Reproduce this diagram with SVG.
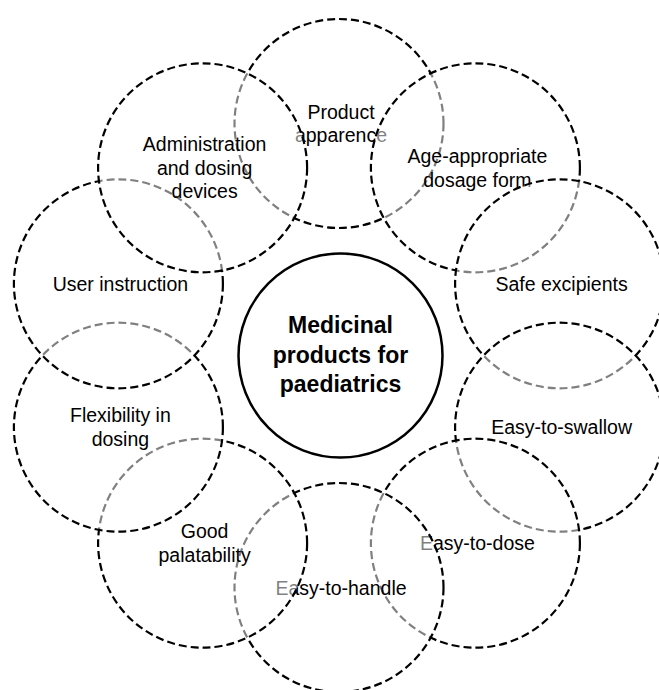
<svg xmlns="http://www.w3.org/2000/svg" width="659" height="690" viewBox="0 0 659 690">
<style>
.ring{fill:#ffffff;fill-opacity:0.5;stroke:#000;stroke-width:2.2;stroke-dasharray:8 4}
.lbl{font-family:"Liberation Sans",Arial,sans-serif;font-size:19.5px;fill:#000;text-anchor:middle}
.hub{fill:#fff;stroke:#000;stroke-width:2.5}
.hubt{font-family:"Liberation Sans",Arial,sans-serif;font-size:23px;font-weight:bold;fill:#000;text-anchor:middle}
</style>
<rect width="659" height="690" fill="#fff"/>
<g id="connectors"/>
<g id="product-apparence">
<circle class="ring" cx="339" cy="123.5" r="104.5"/>
<text class="lbl" x="341" y="118.7">Product</text>
<text class="lbl" x="341" y="142.3">apparence</text>
</g>
<g id="age-appropriate">
<circle class="ring" cx="475.4" cy="167.8" r="104.5"/>
<text class="lbl" x="477.4" y="163">Age-appropriate</text>
<text class="lbl" x="477.4" y="186.6">dosage form</text>
</g>
<g id="safe-excipients">
<circle class="ring" cx="559.6" cy="283.8" r="104.5"/>
<text class="lbl" x="561.6" y="290.8">Safe excipients</text>
</g>
<g id="easy-to-swallow">
<circle class="ring" cx="559.6" cy="427.2" r="104.5"/>
<text class="lbl" x="561.6" y="434.2">Easy-to-swallow</text>
</g>
<g id="easy-to-dose">
<circle class="ring" cx="475.4" cy="543.2" r="104.5"/>
<text class="lbl" x="477.4" y="550.2">Easy-to-dose</text>
</g>
<g id="easy-to-handle">
<circle class="ring" cx="339" cy="587.5" r="104.5"/>
<text class="lbl" x="341" y="594.5">Easy-to-handle</text>
</g>
<g id="good-palatability">
<circle class="ring" cx="202.6" cy="543.2" r="104.5"/>
<text class="lbl" x="204.6" y="538.4">Good</text>
<text class="lbl" x="204.6" y="562">palatability</text>
</g>
<g id="flexibility-in-dosing">
<circle class="ring" cx="118.4" cy="427.2" r="104.5"/>
<text class="lbl" x="120.4" y="422.4">Flexibility in</text>
<text class="lbl" x="120.4" y="446">dosing</text>
</g>
<g id="user-instruction">
<circle class="ring" cx="118.4" cy="283.8" r="104.5"/>
<text class="lbl" x="120.4" y="290.8">User instruction</text>
</g>
<g id="administration-devices">
<circle class="ring" cx="202.6" cy="167.8" r="104.5"/>
<text class="lbl" x="204.6" y="151.3">Administration</text>
<text class="lbl" x="204.6" y="174.8">and dosing</text>
<text class="lbl" x="204.6" y="198.3">devices</text>
</g>
<g id="medicinal-products">
<circle class="hub" cx="340.5" cy="355.5" r="102"/>
<text class="hubt" x="340.5" y="333.3">Medicinal</text>
<text class="hubt" x="340.5" y="362.6">products for</text>
<text class="hubt" x="340.5" y="392">paediatrics</text>
</g>
</svg>
